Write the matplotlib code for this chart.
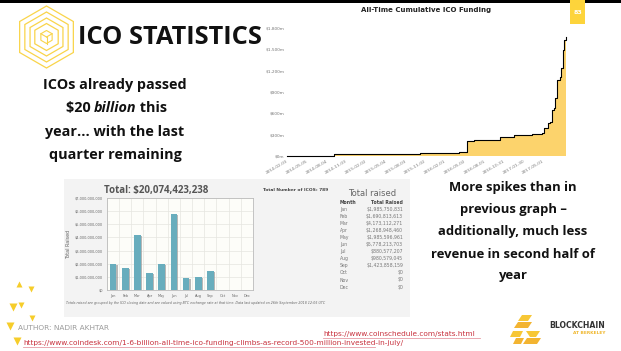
import matplotlib
matplotlib.use("Agg")
import matplotlib.pyplot as plt
import numpy as np
import pandas as pd
from matplotlib.patches import Polygon, Rectangle

# ---------------- data ----------------
cum_dates = ['2014-02-03', '2014-05-21', '2014-09-07', '2015-01-20', '2015-06-10',
             '2015-10-13', '2016-04-07', '2016-05-14', '2016-06-16', '2016-08-20',
             '2016-10-17', '2016-12-18', '2017-03-11', '2017-04-26', '2017-05-04',
             '2017-05-27', '2017-06-04', '2017-06-11', '2017-06-22', '2017-06-27',
             '2017-07-04', '2017-07-07', '2017-07-17', '2017-07-23', '2017-07-31',
             '2017-08-07', '2017-08-16']
cum_values = [0, 3, 22, 27, 31, 37, 50, 206, 220, 232, 262, 290, 305, 328, 390,
              460, 483, 647, 670, 810, 834, 1070, 1115, 1233, 1490, 1630, 1670]
cum_xticks = ['2014-02-03', '2014-05-05', '2014-08-04', '2014-11-03', '2015-02-02',
              '2015-05-04', '2015-08-03', '2015-11-02', '2016-02-01', '2016-05-02',
              '2016-08-01', '2016-10-31', '2017-01-30', '2017-05-01']
cum_yticks = [0, 300, 600, 900, 1200, 1500, 1800]
cum_ylabels = ['$0m', '$300m', '$600m', '$900m', '$1,200m', '$1,500m', '$1,800m']

months = ['Jan', 'Feb', 'Mar', 'Apr', 'May', 'Jun', 'Jul', 'Aug', 'Sep', 'Oct', 'Nov', 'Dec']
raised = [1985750831, 1690813613, 4173112271, 1268948460, 1985596961, 5778213703,
          880577207, 980579045, 1423858159, 0, 0, 0]
bar_yticks = [0, 1e9, 2e9, 3e9, 4e9, 5e9, 6e9, 7e9]
bar_ylabels = ['$0', '$1,000,000,000', '$2,000,000,000', '$3,000,000,000',
               '$4,000,000,000', '$5,000,000,000', '$6,000,000,000', '$7,000,000,000']
table_raised = ['$1,985,750,831', '$1,690,813,613', '$4,173,112,271', '$1,268,948,460',
                '$1,985,596,961', '$5,778,213,703', '$880,577,207', '$980,579,045',
                '$1,423,858,159', '$0', '$0', '$0']

W, H = 621, 351
YEL = '#f9d44a'
fig = plt.figure(figsize=(W / 100, H / 100), dpi=100)
fig.patch.set_facecolor('white')

def px_axes(x0, y0, x1, y1):
    return fig.add_axes([x0 / W, 1 - y1 / H, (x1 - x0) / W, (y1 - y0) / H])

bg = fig.add_axes([0, 0, 1, 1])
bg.set_xlim(0, W)
bg.set_ylim(H, 0)
bg.axis('off')

# top black band
bg.add_patch(Rectangle((0, 0), W, 2.5, color='black', lw=0))
# page number box
bg.add_patch(Rectangle((570, 0), 15, 24, color='#fdd43b', lw=0))
bg.text(577.5, 12, '83', color='white', fontsize=4.5, ha='center', va='center',
        fontweight='bold')

# hexagon logo
cx, cy = 46.5, 37
def hexagon(r):
    ang = np.deg2rad(np.arange(6) * 60 + 90)
    return np.column_stack([cx + r * np.cos(ang), cy - r * np.sin(ang)])
for r in [31, 25, 19, 13.5]:
    bg.add_patch(Polygon(hexagon(r), closed=True, fill=False, ec=YEL, lw=0.9))
rc = 6.5
hv = hexagon(rc)
bg.add_patch(Polygon(hv, closed=True, fill=False, ec=YEL, lw=0.8))
for k in [1, 3, 5]:
    bg.plot([cx, hv[k][0]], [cy, hv[k][1]], color=YEL, lw=0.8)

bg.text(78, 38, 'ICO STATISTICS', fontsize=18.3, fontweight='bold',
        family='Open Sans', va='center', ha='left', color='#111111')

# left paragraph
lx = 115
FS_L = 10.4
for i, ln in enumerate(['ICOs already passed', None, 'year... with the last',
                        'quarter remaining']):
    if ln:
        bg.text(lx, 85 + i * 23.3, ln, fontsize=FS_L, fontweight='bold',
                family='Open Sans', ha='center', va='center', color='#111111')
bg.text(lx - 21, 108.3, '$20 ', fontsize=FS_L, fontweight='bold', family='Open Sans',
        ha='right', va='center', color='#111111')
bg.text(lx - 21, 108.3, 'billion', fontsize=FS_L, fontweight='bold', style='italic',
        family='Open Sans', ha='left', va='center', color='#111111')
bg.text(lx + 21, 108.3, ' this', fontsize=FS_L, fontweight='bold', family='Open Sans',
        ha='left', va='center', color='#111111')

# right paragraph
for i, ln in enumerate(['More spikes than in', 'previous graph \u2013',
                        'additionally, much less', 'revenue in second half of', 'year']):
    bg.text(513, 188 + i * 22, ln, fontsize=9.4, fontweight='bold', family='Open Sans',
            ha='center', va='center', color='#111111')

# cumulative chart
bg.text(426, 10, 'All-Time Cumulative ICO Funding', fontsize=5, fontweight='bold',
        ha='center', va='center', color='#222222')
ax1 = px_axes(287, 28, 566, 156)
d = pd.to_datetime(cum_dates)
ax1.fill_between(d, cum_values, step='post', color='#fcd36c', lw=0)
ax1.step(d, cum_values, where='post', color='black', lw=0.8, clip_on=False)
ax1.set_xlim(pd.Timestamp('2014-02-03'), d[-1])
ax1.set_ylim(0, 1800)
ax1.set_yticks(cum_yticks)
ax1.set_yticklabels(cum_ylabels)
ax1.set_xticks(pd.to_datetime(cum_xticks))
ax1.set_xticklabels(cum_xticks, rotation=30, ha='right', rotation_mode='anchor')
ax1.tick_params(length=0, labelsize=3.1, labelcolor='#777777', pad=2)
for s in ax1.spines.values():
    s.set_visible(False)
ax1.patch.set_alpha(0)

# bar chart panel
bg.add_patch(Rectangle((64, 179), 346, 138, color='#f3f3f3', lw=0))
bg.text(156, 191, 'Total: $20,074,423,238', fontsize=7, fontweight='bold',
        family='Open Sans', ha='center', va='center', color='#555555')
bg.text(296, 190, 'Total Number of ICOS: 789', fontsize=3.2, fontweight='bold',
        ha='center', va='center', color='#444444')
bg.text(372, 194, 'Total raised', fontsize=6, ha='center', va='center', color='#666666')
bg.text(340, 203, 'Month', fontsize=3.3, fontweight='bold', ha='left', va='center',
        color='#444444')
bg.text(403, 203, 'Total Raised', fontsize=3.3, fontweight='bold', ha='right',
        va='center', color='#444444')
for i, (m, v) in enumerate(zip(months, table_raised)):
    y = 209.5 + i * 7.05
    bg.text(340, y, m, fontsize=3.3, ha='left', va='center', color='#777777')
    bg.text(403, y, v, fontsize=3.3, ha='right', va='center', color='#777777')
bg.text(66, 303, 'Totals raised are grouped by the ICO closing date and are valued using '
        'BTC exchange rate at that time. Data last updated on 26th September 2018 12:05 UTC',
        fontsize=2.3, ha='left', va='center', color='#666666', style='italic')

ax2 = px_axes(107, 198, 253, 290)
ax2.set_facecolor('#fdfdf9')
x = np.arange(len(months))
ax2.bar(x + 0.1, np.array(raised) - 0.06e9, width=0.55, color='#9a9a9a', alpha=0.7,
        zorder=2)
ax2.bar(x, raised, width=0.55, color='#68adbd', zorder=3)
ax2.set_xlim(-0.5, 11.5)
ax2.set_ylim(0, 7e9)
ax2.set_yticks(bar_yticks)
ax2.set_yticklabels(bar_ylabels)
ax2.set_xticks(x)
ax2.set_xticklabels(months)
ax2.set_xticks(np.arange(-0.5, 12, 1), minor=True)
ax2.grid(True, which='minor', axis='x', color='#e6e6e0', lw=0.5, zorder=0)
ax2.grid(True, which='major', axis='y', color='#e6e6e0', lw=0.5, zorder=0)
ax2.tick_params(which='both', length=0, labelsize=2.5, labelcolor='#666666', pad=3)
ax2.set_ylabel('Total Raised', fontsize=3.5, color='#666666', labelpad=3)
for s in ax2.spines.values():
    s.set_color('#bbbbbb')
    s.set_linewidth(0.6)

# decorative triangles
for (tx, ty, sz, mk) in [(19, 284, 4, '^'), (31, 289, 4, 'v'), (13, 307, 6, 'v'),
                         (21, 305, 4, 'v'), (32, 318, 4, 'v'), (10, 326, 6, 'v'),
                         (17, 341, 6, 'v')]:
    bg.plot(tx, ty, marker=mk, ms=sz, color='#f6cd2a', mec='none')

bg.text(18, 328.5, 'AUTHOR: NADIR AKHTAR', fontsize=5.3, color='#9a9a9a', ha='left',
        va='center')
link_col = '#c8323e'
bg.text(323, 334, 'https://www.coinschedule.com/stats.html', fontsize=5.3,
        color=link_col, ha='left', va='center')
bg.plot([323, 480], [337.5, 337.5], color='#e79aa3', lw=0.6)
bg.text(23, 343, 'https://www.coindesk.com/1-6-billion-all-time-ico-funding-climbs-as-'
        'record-500-million-invested-in-july/', fontsize=5.3, color=link_col,
        ha='left', va='center')
bg.plot([23, 375], [346.5, 346.5], color='#e79aa3', lw=0.6)

# blockchain at berkeley logo
shapes = [
    [(522, 315), (532, 315), (528, 321), (518, 321)],
    [(518, 322), (532, 322), (528, 328), (514, 328)],
    [(513, 331), (523, 331), (520, 337), (510, 337)],
    [(516, 338), (524, 338), (521, 344), (513, 344)],
    [(526, 331), (540, 331), (536, 337), (530, 337)],
    [(527, 338), (541, 338), (537, 344), (523, 344)],
]
cols = ['#f7c736', '#f3b431', '#f7c736', '#f3b431', '#f7c736', '#f3b431']
for pts, c in zip(shapes, cols):
    bg.add_patch(Polygon(pts, closed=True, color=c, lw=0))
bg.text(577, 326, 'BLOCKCHAIN', fontsize=5.6, fontweight='bold', color='#333333',
        ha='center', va='center')
bg.text(589, 333.5, 'AT BERKELEY', fontsize=3.2, color='#f0b830', ha='center',
        va='center', fontweight='bold')

fig.savefig('out.png', dpi=100)
